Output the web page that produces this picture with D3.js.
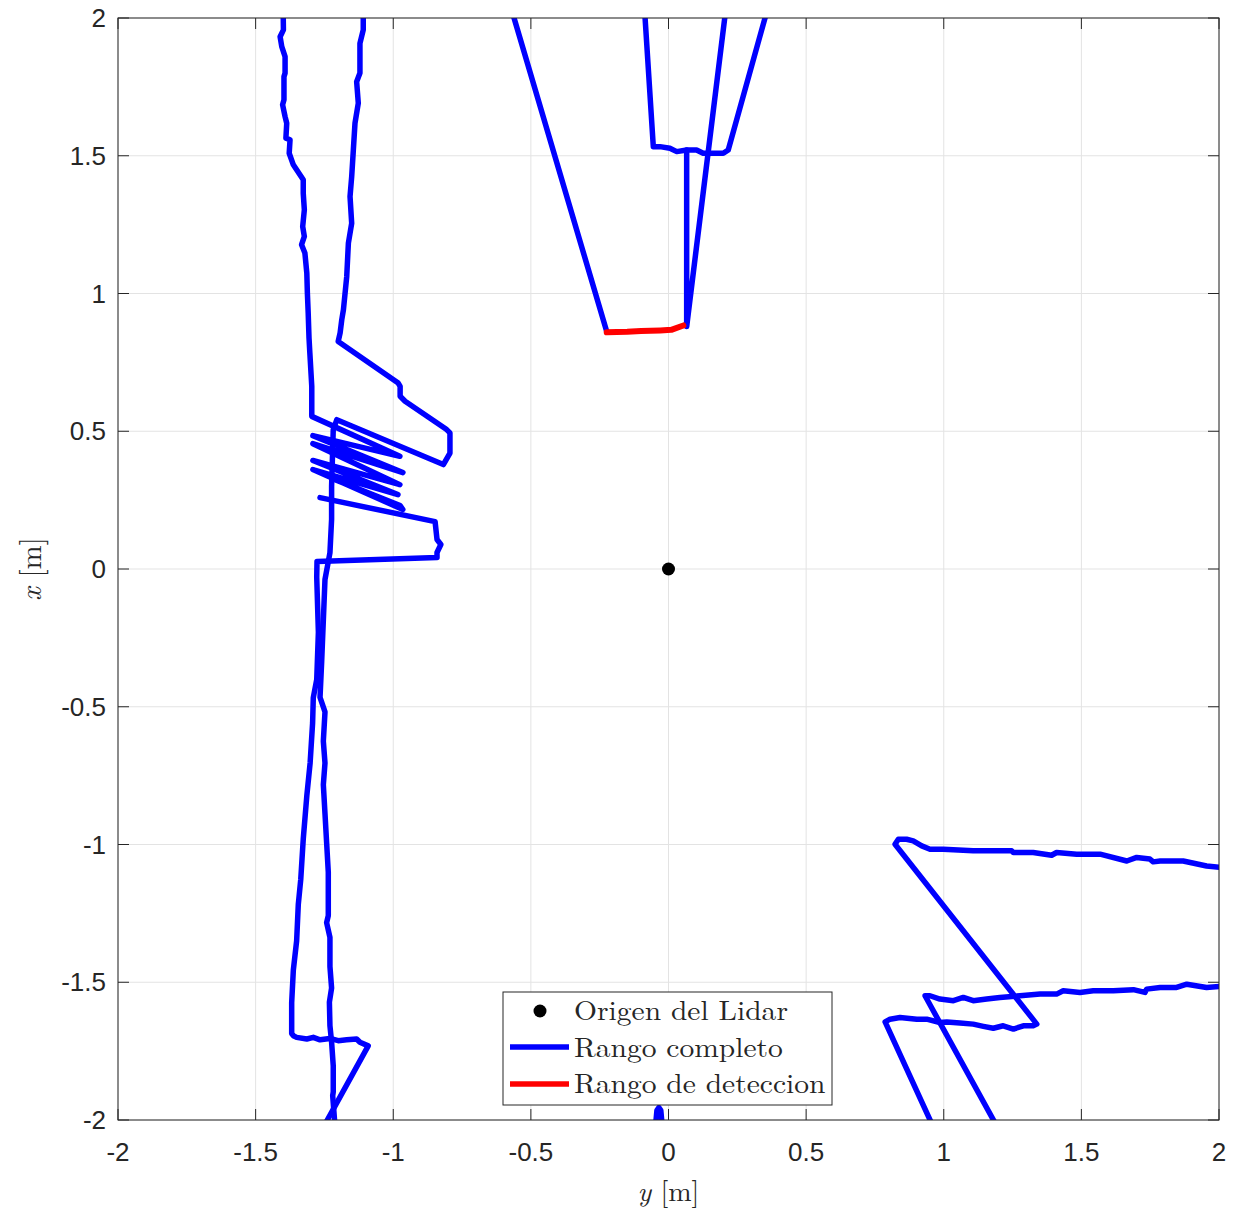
<!DOCTYPE html>
<html>
<head>
<meta charset="utf-8">
<script src="https://cdn.jsdelivr.net/npm/d3@7"></script>
<style>
  body { margin: 0; background: #fff; }
  .tick-label { font-family: "Liberation Sans", Arial, sans-serif; font-size: 26px; fill: #262626; }
  .latex { font-family: "Latin Modern Roman", "Liberation Serif", serif; fill: #262626; }
</style>
</head>
<body>
<div id="chart"></div>
<script>
var width = 1239, height = 1209;
var margin = {left: 118, top: 18, right: 20, bottom: 88};

// scan points as [y, x] in metres (y horizontal, x vertical)
var wallOuter = [[-1.400, 2.03], [-1.399, 1.957], [-1.411, 1.932], [-1.405, 1.896], [-1.393, 1.860], [-1.393, 1.800],
  [-1.397, 1.787], [-1.397, 1.703], [-1.402, 1.685], [-1.393, 1.642], [-1.387, 1.618], [-1.390, 1.564],
  [-1.375, 1.558], [-1.378, 1.509], [-1.363, 1.467], [-1.327, 1.413], [-1.327, 1.364], [-1.323, 1.304],
  [-1.329, 1.243], [-1.323, 1.207], [-1.333, 1.177], [-1.321, 1.147], [-1.314, 1.074], [-1.312, 1.002],
  [-1.309, 0.929], [-1.306, 0.838], [-1.303, 0.784], [-1.296, 0.663], [-1.296, 0.554],
  [-0.976, 0.409], [-1.292, 0.484], [-0.965, 0.350], [-1.292, 0.455], [-0.976, 0.306],
  [-1.292, 0.394], [-0.983, 0.270], [-1.292, 0.361], [-0.965, 0.216], [-0.975, 0.230], [-1.225, 0.330]];
var wallLower = [[-1.266, 0.259], [-0.848, 0.172], [-0.841, 0.107], [-0.827, 0.089], [-0.841, 0.060],
  [-0.841, 0.042], [-1.277, 0.027], [-1.278, -0.030], [-1.272, -0.229], [-1.278, -0.401], [-1.2905, -0.467],
  [-1.293, -0.559], [-1.302, -0.704], [-1.314, -0.823], [-1.327, -0.981], [-1.336, -1.126], [-1.345, -1.218],
  [-1.351, -1.350], [-1.363, -1.456], [-1.369, -1.574], [-1.369, -1.686], [-1.363, -1.694], [-1.351, -1.700],
  [-1.314, -1.706], [-1.2905, -1.700], [-1.266, -1.709], [-1.230, -1.704], [-1.200, -1.712], [-1.169, -1.709],
  [-1.133, -1.706], [-1.121, -1.718], [-1.091, -1.731], [-1.256, -2.03]];
var wallInner = [[-1.109, 2.03], [-1.109, 1.957], [-1.121, 1.908], [-1.121, 1.800], [-1.133, 1.769],
  [-1.127, 1.691], [-1.139, 1.618], [-1.145, 1.521], [-1.151, 1.424], [-1.157, 1.352], [-1.151, 1.255],
  [-1.163, 1.183], [-1.169, 1.062], [-1.181, 0.941], [-1.187, 0.905], [-1.193, 0.857], [-1.200, 0.826],
  [-0.982, 0.675], [-0.975, 0.663], [-0.975, 0.627], [-0.957, 0.609], [-0.806, 0.506], [-0.794, 0.494],
  [-0.794, 0.421], [-0.818, 0.379], [-1.205, 0.542], [-1.218, 0.506], [-1.224, 0.300], [-1.224, 0.180],
  [-1.230, 0.059], [-1.248, -0.038], [-1.260, -0.335], [-1.266, -0.466], [-1.248, -0.519], [-1.254, -0.625],
  [-1.248, -0.704], [-1.254, -0.783], [-1.248, -0.888], [-1.242, -0.994], [-1.236, -1.100], [-1.236, -1.258],
  [-1.242, -1.284], [-1.230, -1.337], [-1.230, -1.443], [-1.224, -1.521], [-1.232, -1.572], [-1.230, -1.658],
  [-1.224, -1.717], [-1.218, -1.803], [-1.218, -1.898], [-1.220, -1.912], [-1.211, -2.03]];
var doorLeft = [[-0.570, 2.03], [-0.2245, 0.862]];
var doorLedge = [[-0.087, 2.03], [-0.0552, 1.533], [-0.031, 1.533], [0.005, 1.527], [0.030, 1.515],
  [0.066, 1.521], [0.102, 1.521], [0.126, 1.509], [0.199, 1.509], [0.217, 1.521], [0.359, 2.03]];
var doorRight = [[0.066, 1.521], [0.066, 0.880], [0.208, 2.03]];
var detection = [[-0.2245, 0.859], [-0.150, 0.861], [-0.100, 0.864], [-0.030, 0.866], [0.010, 0.868], [0.054, 0.884]];
var roomUpper = [[2.03, -1.086], [1.955, -1.078], [1.870, -1.060], [1.786, -1.060], [1.761, -1.063], [1.749, -1.053],
  [1.701, -1.047], [1.665, -1.060], [1.568, -1.035], [1.483, -1.035], [1.410, -1.029], [1.392, -1.039],
  [1.325, -1.029], [1.253, -1.029], [1.247, -1.023], [1.180, -1.023], [1.107, -1.023], [0.998, -1.017],
  [0.950, -1.017], [0.920, -1.005], [0.889, -0.987], [0.865, -0.981], [0.835, -0.981], [0.823, -0.999],
  [1.338, -1.652], [1.325, -1.658], [1.289, -1.658], [1.253, -1.670], [1.216, -1.658], [1.180, -1.667],
  [1.144, -1.660], [1.107, -1.652], [1.059, -1.648], [1.011, -1.644], [0.986, -1.646], [0.938, -1.634],
  [0.902, -1.634], [0.841, -1.628], [0.805, -1.634], [0.787, -1.644], [0.964, -2.03]];
var roomLower = [[2.03, -1.513], [1.955, -1.519], [1.883, -1.507], [1.846, -1.519], [1.786, -1.519], [1.737, -1.525],
  [1.731, -1.537], [1.689, -1.527], [1.616, -1.531], [1.543, -1.531], [1.495, -1.537], [1.434, -1.531],
  [1.410, -1.543], [1.350, -1.543], [1.277, -1.549], [1.204, -1.555], [1.156, -1.561], [1.107, -1.567],
  [1.071, -1.555], [1.035, -1.567], [0.986, -1.561], [0.950, -1.549], [0.932, -1.549], [1.197, -2.03]];
var floorBlip = [[-0.048, -2.03], [-0.042, -1.965], [-0.035, -1.955], [-0.028, -1.965], [-0.022, -2.03]];
var lidarOrigin = [[0, 0]];

var tickValues = [-2, -1.5, -1, -0.5, 0, 0.5, 1, 1.5, 2];
var tickLabels = ["-2", "-1.5", "-1", "-0.5", "0", "0.5", "1", "1.5", "2"];
var legendLabels = ["Origen del Lidar", "Rango completo", "Rango de deteccion"];

var blue = "#0000ff", red = "#ff0000";

var svg = d3.select("#chart").append("svg")
  .attr("width", width).attr("height", height)
  .style("background", "#fff");

var plotW = 1101, plotH = 1102;
var xScale = d3.scaleLinear().domain([-2, 2]).range([margin.left, margin.left + plotW]);
var yScale = d3.scaleLinear().domain([-2, 2]).range([margin.top + plotH, margin.top]);

svg.append("clipPath").attr("id", "plotclip")
  .append("rect").attr("x", margin.left).attr("y", margin.top).attr("width", plotW).attr("height", plotH);

// grid
var grid = svg.append("g");
grid.selectAll(".vg").data(tickValues).enter().append("line")
  .attr("x1", function(d) { return xScale(d); }).attr("x2", function(d) { return xScale(d); })
  .attr("y1", margin.top).attr("y2", margin.top + plotH)
  .attr("stroke", "#e3e3e3").attr("stroke-width", 1);
grid.selectAll(".hg").data(tickValues).enter().append("line")
  .attr("y1", function(d) { return yScale(d); }).attr("y2", function(d) { return yScale(d); })
  .attr("x1", margin.left).attr("x2", margin.left + plotW)
  .attr("stroke", "#e3e3e3").attr("stroke-width", 1);

// scan lines
var line = d3.line()
  .x(function(d) { return xScale(d[0]); })
  .y(function(d) { return yScale(d[1]); });

var gData = svg.append("g").attr("clip-path", "url(#plotclip)");
var scans = [wallOuter, wallLower, wallInner, doorLeft, doorLedge, doorRight, roomUpper, roomLower, floorBlip];
gData.selectAll(".scan").data(scans).enter().append("path")
  .attr("class", "scan")
  .attr("d", line)
  .attr("fill", "none").attr("stroke", blue).attr("stroke-width", 5.5)
  .attr("stroke-linejoin", "round").attr("stroke-linecap", "round");

gData.append("path").datum(detection)
  .attr("d", line)
  .attr("fill", "none").attr("stroke", red).attr("stroke-width", 6)
  .attr("stroke-linejoin", "round").attr("stroke-linecap", "round");

gData.selectAll(".origin").data(lidarOrigin).enter().append("circle")
  .attr("cx", function(d) { return xScale(d[0]); })
  .attr("cy", function(d) { return yScale(d[1]); })
  .attr("r", 6.5).attr("fill", "#000");

// axes box with inward ticks on all sides
var axisColor = "#262626";
var tickLen = 11;
var axes = svg.append("g").attr("stroke", axisColor).attr("stroke-width", 1);
axes.append("rect").attr("x", margin.left).attr("y", margin.top).attr("width", plotW).attr("height", plotH)
  .attr("fill", "none");
tickValues.forEach(function(t) {
  var px = xScale(t), py = yScale(t);
  axes.append("line").attr("x1", px).attr("x2", px).attr("y1", margin.top + plotH).attr("y2", margin.top + plotH - tickLen);
  axes.append("line").attr("x1", px).attr("x2", px).attr("y1", margin.top).attr("y2", margin.top + tickLen);
  axes.append("line").attr("y1", py).attr("y2", py).attr("x1", margin.left).attr("x2", margin.left + tickLen);
  axes.append("line").attr("y1", py).attr("y2", py).attr("x1", margin.left + plotW).attr("x2", margin.left + plotW - tickLen);
});

svg.selectAll(".xtl").data(tickValues).enter().append("text")
  .attr("class", "tick-label")
  .attr("x", function(d) { return xScale(d); })
  .attr("y", margin.top + plotH + 41)
  .attr("text-anchor", "middle")
  .text(function(d, i) { return tickLabels[i]; });
svg.selectAll(".ytl").data(tickValues).enter().append("text")
  .attr("class", "tick-label")
  .attr("x", margin.left - 12)
  .attr("y", function(d) { return yScale(d) + 9; })
  .attr("text-anchor", "end")
  .text(function(d, i) { return tickLabels[i]; });

// axis labels
var xl = svg.append("text").attr("class", "latex").attr("x", xScale(0)).attr("y", 1201)
  .attr("text-anchor", "middle").style("font-size", "28px");
xl.append("tspan").style("font-style", "italic").text("y");
xl.append("tspan").text(" [m]");
var yl = svg.append("text").attr("class", "latex")
  .attr("transform", "translate(41," + yScale(0) + ") rotate(-90)")
  .attr("text-anchor", "middle").style("font-size", "29px");
yl.append("tspan").style("font-style", "italic").text("x");
yl.append("tspan").text(" [m]");

// legend
var lg = svg.append("g").attr("transform", "translate(503,992)");
lg.append("rect").attr("width", 329).attr("height", 113)
  .attr("fill", "#fff").attr("stroke", axisColor).attr("stroke-width", 1);
lg.append("circle").attr("cx", 37).attr("cy", 19).attr("r", 6.5).attr("fill", "#000");
lg.append("line").attr("x1", 7).attr("x2", 66).attr("y1", 55).attr("y2", 55)
  .attr("stroke", blue).attr("stroke-width", 5.5);
lg.append("line").attr("x1", 7).attr("x2", 66).attr("y1", 92).attr("y2", 92)
  .attr("stroke", red).attr("stroke-width", 5.5);
lg.selectAll(".ltxt").data(legendLabels).enter().append("text")
  .attr("class", "latex")
  .attr("x", 71)
  .attr("y", function(d, i) { return 28 + i * 36.5; })
  .style("font-size", "28px")
  .each(function(d) {
    var t = d3.select(this).text(d);
    // stretch slightly to mimic the wider LaTeX face
    var w = this.getComputedTextLength();
    t.attr("textLength", w * 1.055).attr("lengthAdjust", "spacingAndGlyphs");
  });
</script>
</body>
</html>
